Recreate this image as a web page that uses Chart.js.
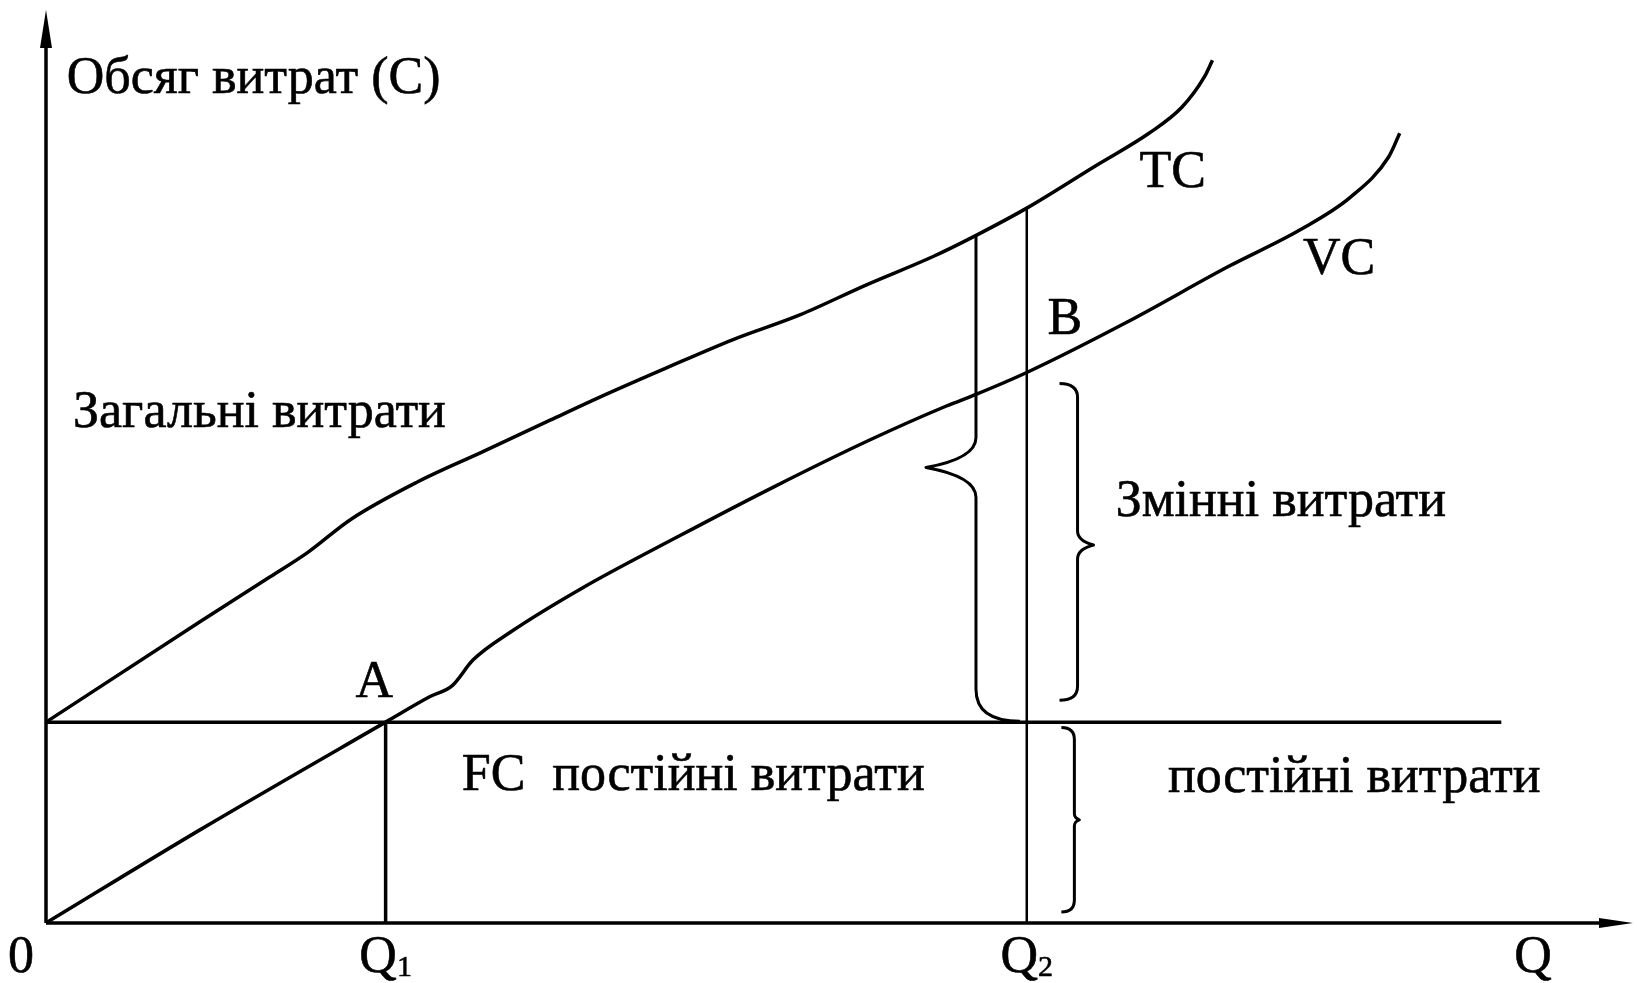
<!DOCTYPE html>
<html lang="uk">

<head>
  <meta charset="UTF-8">
  <title>Витрати виробництва</title>
  <script src="https://cdn.jsdelivr.net/npm/chart.js"></script>
  <style>
    html, body {
      margin: 0;
      padding: 0;
      background: #ffffff;
    }

    .chart-box {
      width: 1637px;
      height: 983px;
      position: relative;
    }
  </style>
</head>

<body>
  <div class="chart-box">
    <canvas id="costChart"></canvas>
  </div>

  <script>
    // Q axis (0..100) and C axis (0..100)
    const qTicks = [0, 21.4, 61.8, 93.7];
    const qTickLabels = ['0', 'Q', 'Q', 'Q'];
    const qTickSubs = ['', '1', '2', ''];

    const fcLevel = 22;   // постійні витрати
    const fcEnd = 91.7;   // where the FC line stops
    const q1 = 21.4;
    const q2 = 61.8;

    // total costs TC
    const tcQ = [0, 9.7, 14.1, 16.5, 19.2, 23.4, 27.5, 31.8, 34.9, 39.1, 43.3, 47.5, 51.7, 55.9, 58.7, 61.8, 66.2, 69.5, 71.6, 73.0, 73.5];
    const tcC = [22, 33.0, 37.9, 40.6, 44.2, 48.3, 51.6, 55.1, 57.6, 60.8, 63.9, 66.6, 69.9, 73.0, 75.4, 78.3, 83.0, 86.5, 89.4, 92.7, 94.5];

    // variable costs VC
    const vcQ = [0, 9.7, 21.4, 24.2, 25.6, 26.9, 29.3, 33.8, 39.8, 45.9, 51.9, 56.7, 58.6, 61.8, 68.1, 74.5, 79.0, 82.2, 84.6, 85.3];
    const vcC = [0, 10.2, 22, 24.8, 26.0, 28.8, 31.9, 36.7, 42.3, 47.8, 52.9, 56.6, 57.9, 60.3, 65.8, 71.9, 75.9, 79.5, 83.9, 86.5];

    // curly braces: spine position, top, bottom, tip level
    const braceQ = [58.6, 65.0, 64.8];
    const braceTop = [75.3, 59.1, 21.4];
    const braceBottom = [22.1, 24.4, 1.2];
    const braceTip = [49.9, 41.4, 11.3];

    const pts = (xs, ys) => xs.map((x, i) => ({ x: x, y: ys[i] }));

    // text placed on the diagram (left / baseline, in chart units)
    const notes = [
      { text: 'Обсяг витрат (С)', q: 1.3, c: 90.9 },
      { text: 'Загальні витрати', q: 1.7, c: 54.3 },
      { text: 'TC', q: 68.9, c: 80.6 },
      { text: 'VC', q: 79.2, c: 71.1 },
      { text: 'B', q: 63.1, c: 64.5 },
      { text: 'A', q: 19.5, c: 24.8 },
      { text: 'FC', q: 26.2, c: 14.6 },
      { text: 'постійні витрати', q: 31.9, c: 14.6 },
      { text: 'постійні витрати', q: 70.7, c: 14.4 },
      { text: 'Змінні витрати', q: 67.4, c: 44.6 }
    ];

    // brace shape settings (pixels)
    const braceStyle = [
      { tipDx: -50, tipDy: 30, hookTop: 0, hookBot: 44, hookH: 32 },
      { tipDx: 16, tipDy: 14, hookTop: -18, hookBot: -18, hookH: 14 },
      { tipDx: 5, tipDy: 6, hookTop: -13, hookBot: -13, hookH: 12 }
    ];

    const FONT = '"Liberation Serif", "Times New Roman", serif';

    function writeText(ctx, text, x, y) {
      ctx.fillText(text, x, y);
      ctx.strokeText(text, x, y);
    }

    const diagramPlugin = {
      id: 'diagram',
      afterDatasetsDraw(chart) {
        const ctx = chart.ctx;
        const xs = chart.scales.x;
        const ys = chart.scales.y;
        const x0 = xs.getPixelForValue(0);
        const y0 = ys.getPixelForValue(0);
        const xEnd = xs.getPixelForValue(xs.max);
        const yEnd = ys.getPixelForValue(ys.max);

        ctx.save();
        ctx.strokeStyle = '#000';
        ctx.fillStyle = '#000';
        ctx.lineWidth = 3.5;
        ctx.lineCap = 'butt';

        // axes
        ctx.beginPath();
        ctx.moveTo(x0, y0);
        ctx.lineTo(xEnd - 20, y0);
        ctx.moveTo(x0, y0);
        ctx.lineTo(x0, yEnd + 20);
        ctx.stroke();

        // arrow heads
        ctx.beginPath();
        ctx.moveTo(xEnd, y0);
        ctx.lineTo(xEnd - 34, y0 - 5);
        ctx.lineTo(xEnd - 34, y0 + 5);
        ctx.closePath();
        ctx.fill();
        ctx.beginPath();
        ctx.moveTo(x0, yEnd);
        ctx.lineTo(x0 - 6, yEnd + 38);
        ctx.lineTo(x0 + 6, yEnd + 38);
        ctx.closePath();
        ctx.fill();

        // braces
        ctx.lineWidth = 3;
        ctx.lineJoin = 'round';
        for (let i = 0; i < braceQ.length; i++) {
          const st = braceStyle[i];
          const sx = xs.getPixelForValue(braceQ[i]);
          const top = ys.getPixelForValue(braceTop[i]);
          const bot = ys.getPixelForValue(braceBottom[i]);
          const tip = ys.getPixelForValue(braceTip[i]);
          ctx.beginPath();
          if (st.hookTop) {
            ctx.moveTo(sx + st.hookTop, top);
            ctx.quadraticCurveTo(sx, top, sx, top + st.hookH);
          } else {
            ctx.moveTo(sx, top);
          }
          ctx.lineTo(sx, tip - st.tipDy);
          ctx.quadraticCurveTo(sx, tip - st.tipDy * 0.3, sx + st.tipDx, tip);
          ctx.quadraticCurveTo(sx, tip + st.tipDy * 0.3, sx, tip + st.tipDy);
          ctx.lineTo(sx, bot - st.hookH);
          ctx.quadraticCurveTo(sx, bot, sx + st.hookBot, bot);
          ctx.stroke();
        }

        // notes
        ctx.fillStyle = '#000';
        ctx.strokeStyle = '#000';
        ctx.lineWidth = 0.6;
        ctx.textBaseline = 'alphabetic';
        ctx.textAlign = 'left';
        ctx.font = '52px ' + FONT;
        notes.forEach(n => {
          writeText(ctx, n.text, xs.getPixelForValue(n.q), ys.getPixelForValue(n.c));
        });

        // tick labels on the Q axis
        const base = y0 + 49;
        qTicks.forEach((v, i) => {
          const px = xs.getPixelForValue(v);
          ctx.font = '52px ' + FONT;
          const w = ctx.measureText(qTickLabels[i]).width;
          ctx.font = '30px ' + FONT;
          const ws = qTickSubs[i] ? ctx.measureText(qTickSubs[i]).width : 0;
          let left = px - (w + ws) / 2;
          if (v === 0) left = px - 12 - w - ws;
          ctx.font = '52px ' + FONT;
          writeText(ctx, qTickLabels[i], left, base);
          if (ws) {
            ctx.font = '30px ' + FONT;
            writeText(ctx, qTickSubs[i], left + w, base + 4);
          }
        });
        ctx.restore();
      }
    };

    const lineSet = (data, width, smooth) => ({
      data: data,
      showLine: true,
      borderColor: '#000',
      borderWidth: width,
      pointRadius: 0,
      fill: false,
      clip: false,
      cubicInterpolationMode: smooth ? 'monotone' : 'default',
      tension: 0
    });

    const ctx = document.getElementById('costChart').getContext('2d');
    const costChart = new Chart(ctx, {
      type: 'scatter',
      data: {
        datasets: [
          lineSet(pts(tcQ, tcC), 3.5, true),
          lineSet(pts(vcQ, vcC), 3.5, true),
          lineSet([{ x: 0, y: fcLevel }, { x: fcEnd, y: fcLevel }], 3.5, false),
          lineSet([{ x: q1, y: 0 }, { x: q1, y: fcLevel }], 3.5, false),
          lineSet([{ x: q2, y: 0 }, { x: q2, y: tcC[tcQ.indexOf(q2)] }], 2.5, false)
        ]
      },
      options: {
        responsive: true,
        maintainAspectRatio: false,
        animation: false,
        layout: {
          padding: { left: 46, right: 4, top: 10, bottom: 60 }
        },
        plugins: {
          legend: { display: false },
          tooltip: { enabled: false }
        },
        scales: {
          x: { type: 'linear', min: 0, max: 100, display: false },
          y: { type: 'linear', min: 0, max: 100, display: false }
        }
      },
      plugins: [diagramPlugin]
    });
  </script>
</body>

</html>
